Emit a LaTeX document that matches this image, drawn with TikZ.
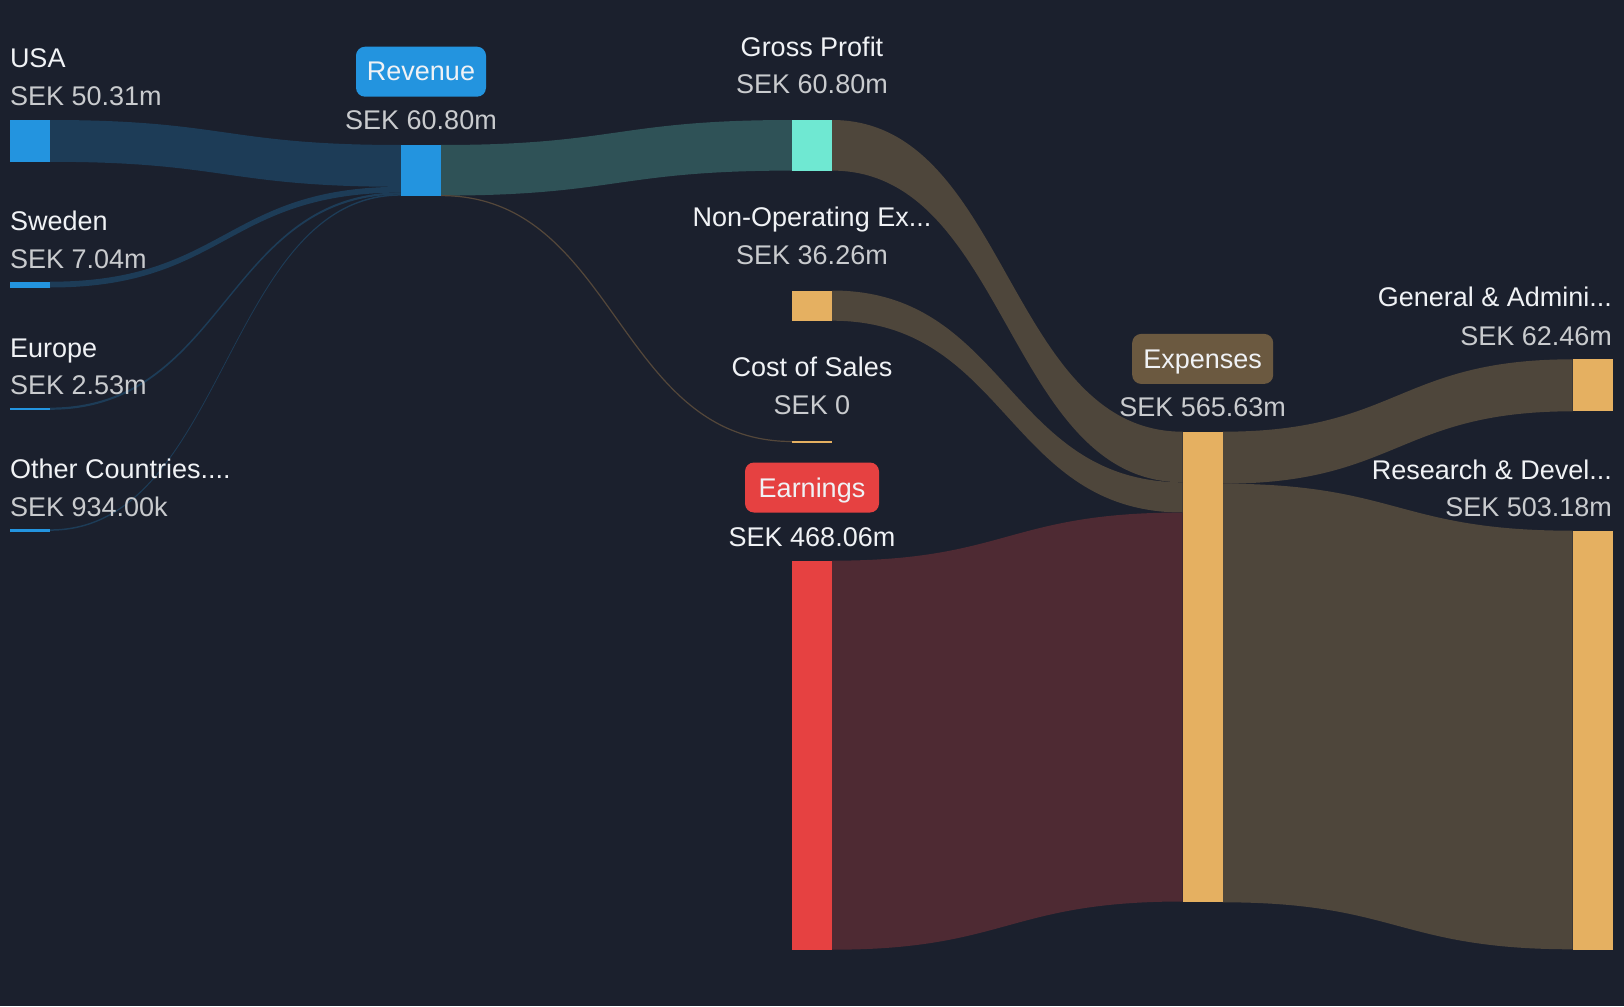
\documentclass[tikz,border=0pt]{standalone}
\usepackage{fontspec}
\setmainfont{Liberation Sans}
\usetikzlibrary{calc}
\definecolor{bgc}{HTML}{1B202D}
\definecolor{barblue}{HTML}{2394DF}
\definecolor{barteal}{HTML}{6FE8D2}
\definecolor{bargold}{HTML}{E5B061}
\definecolor{barred}{HTML}{E64141}
\definecolor{flowblue}{HTML}{1D3C57}
\definecolor{flowteal}{HTML}{2F5257}
\definecolor{flowbrown}{HTML}{4E463B}
\definecolor{flowred}{HTML}{4E2A33}
\definecolor{expbox}{HTML}{6B5940}
\definecolor{lblc}{HTML}{F0F2F5}
\definecolor{valc}{HTML}{C9CBCE}
\definecolor{coslinec}{HTML}{54473A}
\newcommand\sankeyband[6]{%
  \fill[#1] let \p1=([yshift=-#3pt]#2.north east), \p2=([yshift=-#5pt]#4.north west) in
   (\p1) .. controls ({(\x1+\x2)/2},\y1) and ({(\x1+\x2)/2},\y2) .. (\p2)
   -- (\x2,{\y2-#6pt}) .. controls ({(\x1+\x2)/2},{\y2-#6pt}) and ({(\x1+\x2)/2},{\y1-#6pt}) .. (\x1,{\y1-#6pt}) -- cycle;}
\tikzset{
  bar/.style={rectangle, draw=none, inner sep=0pt, outer sep=0pt, minimum width=40pt, anchor=north west},
  txt/.style={inner sep=0pt, outer sep=0pt, font=\fontsize{27}{32}\selectfont},
  lbl/.style={txt, text=lblc},
  val/.style={txt, text=valc},
  tagbox/.style={txt, text=lblc, rounded corners=9pt, text depth=0pt, minimum height=50pt, anchor=center}
}
\begin{document}
\begin{tikzpicture}[x=1pt,y=-1pt]
\useasboundingbox (0,0) rectangle (1624,1006);
\fill[bgc] (0,0) rectangle (1624,1006);

% bars
\node[bar, fill=barblue, minimum height=41.8pt] (usa) at (10,120) {};
\node[bar, fill=barblue, minimum height=5.8pt] (swe) at (10,281.7) {};
\node[bar, fill=barblue, minimum height=2.5pt] (eur) at (10,407.6) {};
\node[bar, fill=barblue, minimum height=2.4pt] (oth) at (10,529.3) {};
\node[bar, fill=barblue, minimum height=50.6pt] (rev) at (401,145) {};
\node[bar, fill=barteal, minimum height=50.6pt] (gp) at (792,120) {};
\node[bar, fill=bargold, minimum height=30.2pt] (nonop) at (792,290.5) {};
\node[bar, fill=bargold, minimum height=2pt] (cos) at (792,440.5) {};
\node[bar, fill=barred, minimum height=389pt] (earn) at (792,560.7) {};
\node[bar, fill=bargold, minimum height=470.6pt] (exp) at (1182.7,431.7) {};
\node[bar, fill=bargold, minimum height=52pt] (ga) at (1572.7,359.3) {};
\node[bar, fill=bargold, minimum height=419pt] (rd) at (1572.7,530.7) {};

% flows
\sankeyband{flowblue}{usa}{0}{rev}{0}{41.8}
\sankeyband{flowblue}{swe}{0}{rev}{41.8}{5.8}
\sankeyband{flowblue}{eur}{0}{rev}{47.4}{2.2}
\sankeyband{flowblue}{oth}{0}{rev}{49.2}{1.5}
\sankeyband{flowteal}{rev}{0}{gp}{0}{50.6}
\draw[coslinec, line width=1.2pt] let \p1=(rev.south east), \p2=(cos.west) in
  (\p1) .. controls ({(\x1+\x2)/2},\y1) and ({(\x1+\x2)/2},\y2) .. (\p2);
\sankeyband{flowbrown}{gp}{0}{exp}{0}{50.6}
\sankeyband{flowbrown}{nonop}{0}{exp}{50.6}{30.2}
\sankeyband{flowred}{earn}{0}{exp}{80.8}{389}
\sankeyband{flowbrown}{exp}{0}{ga}{0}{52}
\sankeyband{flowbrown}{exp}{52}{rd}{0}{418.6}

% redraw bars on top
\foreach \b/\c in {usa/barblue,swe/barblue,eur/barblue,oth/barblue,rev/barblue,gp/barteal,nonop/bargold,cos/bargold,earn/barred,exp/bargold,ga/bargold,rd/bargold}
  \fill[\c] (\b.north west) rectangle (\b.south east);

% left labels
\node[lbl, anchor=base west] (tusa) at (10,68) {USA};
\node[val, anchor=base west] (vusa) at (10,106) {SEK 50.31m};
\node[lbl, anchor=base west] (tswe) at (10,230) {Sweden};
\node[val, anchor=base west] (vswe) at (10,268) {SEK 7.04m};
\node[lbl, anchor=base west] (teur) at (10,357) {Europe};
\node[val, anchor=base west] (veur) at (10,394) {SEK 2.53m};
\node[lbl, anchor=base west] (toth) at (10,478) {Other Countries....};
\node[val, anchor=base west] (voth) at (10,516) {SEK 934.00k};

% revenue
\node[tagbox, fill=barblue, minimum width=130pt] (trev) at (421,71.7) {Revenue};
\node[val, anchor=base] (vrev) at (421,130) {SEK 60.80m};

% middle column
\node[lbl, anchor=base] (tgp) at (812,56.2) {Gross Profit};
\node[val, anchor=base] (vgp) at (812,94) {SEK 60.80m};
\node[lbl, anchor=base] (tnon) at (812,226.6) {Non-Operating Ex...};
\node[val, anchor=base] (vnon) at (812,264.5) {SEK 36.26m};
\node[lbl, anchor=base] (tcos) at (812,376.4) {Cost of Sales};
\node[val, anchor=base] (vcos) at (812,414.3) {SEK 0};
\node[tagbox, fill=barred, minimum width=134pt] (tearn) at (812,487.5) {Earnings};
\node[lbl, anchor=base] (vearn) at (812,546.9) {SEK 468.06m};

% expenses
\node[tagbox, fill=expbox, minimum width=141pt] (texp) at (1202.7,358.9) {Expenses};
\node[val, anchor=base] (vexp) at (1202.7,416.7) {SEK 565.63m};

% right column
\node[lbl, anchor=base east] (tga) at (1612,306.7) {General \& Admini...};
\node[val, anchor=base east] (vga) at (1612,345) {SEK 62.46m};
\node[lbl, anchor=base east] (trd) at (1612,479.3) {Research \& Devel...};
\node[val, anchor=base east] (vrd) at (1612,516.7) {SEK 503.18m};
\end{tikzpicture}
\end{document}
